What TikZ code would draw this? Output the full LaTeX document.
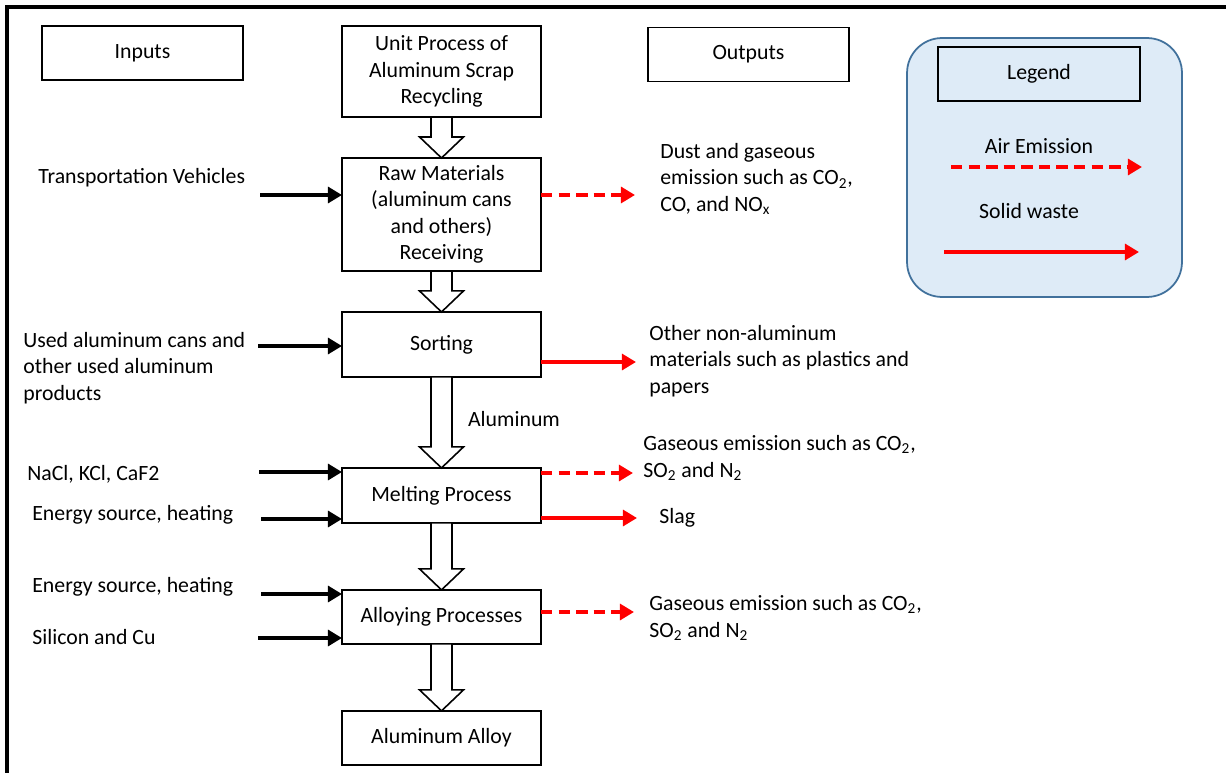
\documentclass[tikz,border=0pt]{standalone}
\usepackage{fontspec}
\setmainfont{Carlito}
\usepackage{tikz}
\usetikzlibrary{positioning}
\usetikzlibrary{arrows.meta}
\usetikzlibrary{calc}
\definecolor{legendfill}{RGB}{222,235,247}
\definecolor{legendline}{RGB}{65,113,156}

\begin{document}
\begin{tikzpicture}[x=0.02cm,y=-0.02cm,node distance=0.82cm,
	every node/.style={font=\fontsize{12.4}{15}\selectfont},
	box/.style={draw,line width=1pt,minimum width=3.98cm,align=center,outer sep=0,inner sep=2pt},
	txt/.style={anchor=west,align=left,inner sep=0},
	inarrow/.style={line width=2.3pt,-{Triangle[length=8pt,width=9pt]}},
	airarrow/.style={red,line width=2.3pt,dash pattern=on 6.5pt off 3.5pt,-{Triangle[length=8pt,width=9pt]}},
	wastearrow/.style={red,line width=2.3pt,-{Triangle[length=8pt,width=9pt]}},
	blockarrow/.style={draw,fill=white,line width=0.9pt,line join=miter}]
	\useasboundingbox (0,0) rectangle (1226,773);
	\draw[line width=2.2pt] (7,773) -- (7,7) -- (1226,7);
	% legend
	\node (legend) [draw=legendline,fill=legendfill,line width=1pt,rounded corners=0.7cm,minimum width=5.5cm,minimum height=5.18cm] at (1044.5,167.5) {};
	\node (legendtitle) [box,minimum width=4.04cm,minimum height=1.08cm] at (1039,74) {Legend};
	\node (airlabel) at (1039,146) {Air Emission};
	\node (wastelabel) at (1029,211) {Solid waste};
	\coordinate (air1) at (951,167);
	\coordinate (air2) at (1142,167);
	\coordinate (waste1) at (944,252);
	\coordinate (waste2) at (1139,252);
	\draw[airarrow] (air1) -- (air2);
	\draw[wastearrow] (waste1) -- (waste2);
	% headers
	\node (inputs) [box,minimum width=4.02cm,minimum height=1.08cm] at (142.5,53) {Inputs};
	\node (outputs) [box,minimum width=4.02cm,minimum height=1.08cm] at (748.5,54.5) {Outputs};
	% main column
	\node (unit) [box,minimum height=1.82cm] at (441.5,71.5) {Unit Process of\\Aluminum Scrap\\Recycling};
	\node (raw) [box,minimum height=2.26cm,below=of unit] {Raw Materials\\(aluminum cans\\and others)\\Receiving};
	\node (sorting) [box,minimum height=1.3cm,below=of raw] {Sorting};
	\node (melting) [box,minimum height=1.1cm,below=1.82cm of sorting] {Melting Process};
	\node (alloying) [box,minimum height=1.08cm,below=1.34cm of melting] {Alloying Processes};
	\node (alloy) [box,minimum height=1.08cm,below=1.34cm of alloying] {Aluminum Alloy};
	\foreach \a/\b in {unit/raw,raw/sorting,sorting/melting,melting/alloying,alloying/alloy}
		\draw[blockarrow] ($(\a.south)+(-10.5,0)$) -- ($(\b.north)+(-10.5,-21)$) -- ($(\b.north)+(-22,-21)$) -- (\b.north)
			-- ($(\b.north)+(22,-21)$) -- ($(\b.north)+(10.5,-21)$) -- ($(\a.south)+(10.5,0)$) -- cycle;
	\node (aluminum) at (514,419) {Aluminum};
	% inputs
	\node (transport) [txt] at (38,178) {Transportation Vehicles};
	\node (used) [txt] at (23,368) {Used aluminum cans and\\other used aluminum\\products};
	\node (salts) [txt] at (27,474) {NaCl, KCl, CaF2};
	\node (energy1) [txt] at (32,515) {Energy source, heating};
	\node (energy2) [txt] at (32,587) {Energy source, heating};
	\node (silicon) [txt] at (32,637) {Silicon and Cu};
	\coordinate (in1) at (260,195);
	\coordinate (in2) at (258,346);
	\coordinate (in3) at (259,472);
	\coordinate (in4) at (261,519);
	\coordinate (in5) at (261,594);
	\coordinate (in6) at (258,638);
	\draw[inarrow] (in1) -- (in1 -| raw.west);
	\draw[inarrow] (in2) -- (in2 -| sorting.west);
	\draw[inarrow] (in3) -- (in3 -| melting.west);
	\draw[inarrow] (in4) -- (in4 -| melting.west);
	\draw[inarrow] (in5) -- (in5 -| alloying.west);
	\draw[inarrow] (in6) -- (in6 -| alloying.west);
	% outputs
	\node (dust) [txt] at (660,179) {Dust and gaseous\\emission such as CO\textsubscript{2},\\CO, and NO\textsubscript{x}};
	\node (nonal) [txt] at (649,361) {Other non-aluminum\\materials such as plastics and\\papers};
	\node (gas1) [txt] at (643,458) {Gaseous emission such as CO\textsubscript{2},\\SO\textsubscript{2} and N\textsubscript{2}};
	\node (slag) [txt] at (659,518) {Slag};
	\node (gas2) [txt] at (649,618) {Gaseous emission such as CO\textsubscript{2},\\SO\textsubscript{2} and N\textsubscript{2}};
	\coordinate (out1) at (635,195);
	\coordinate (out2) at (636,362);
	\coordinate (out3) at (633,473);
	\coordinate (out4) at (637,518);
	\coordinate (out5) at (634,612);
	\draw[airarrow] (out1 -| raw.east) -- (out1);
	\draw[wastearrow] (out2 -| sorting.east) -- (out2);
	\draw[airarrow] (out3 -| melting.east) -- (out3);
	\draw[wastearrow] (out4 -| melting.east) -- (out4);
	\draw[airarrow] (out5 -| alloying.east) -- (out5);
\end{tikzpicture}
\end{document}
